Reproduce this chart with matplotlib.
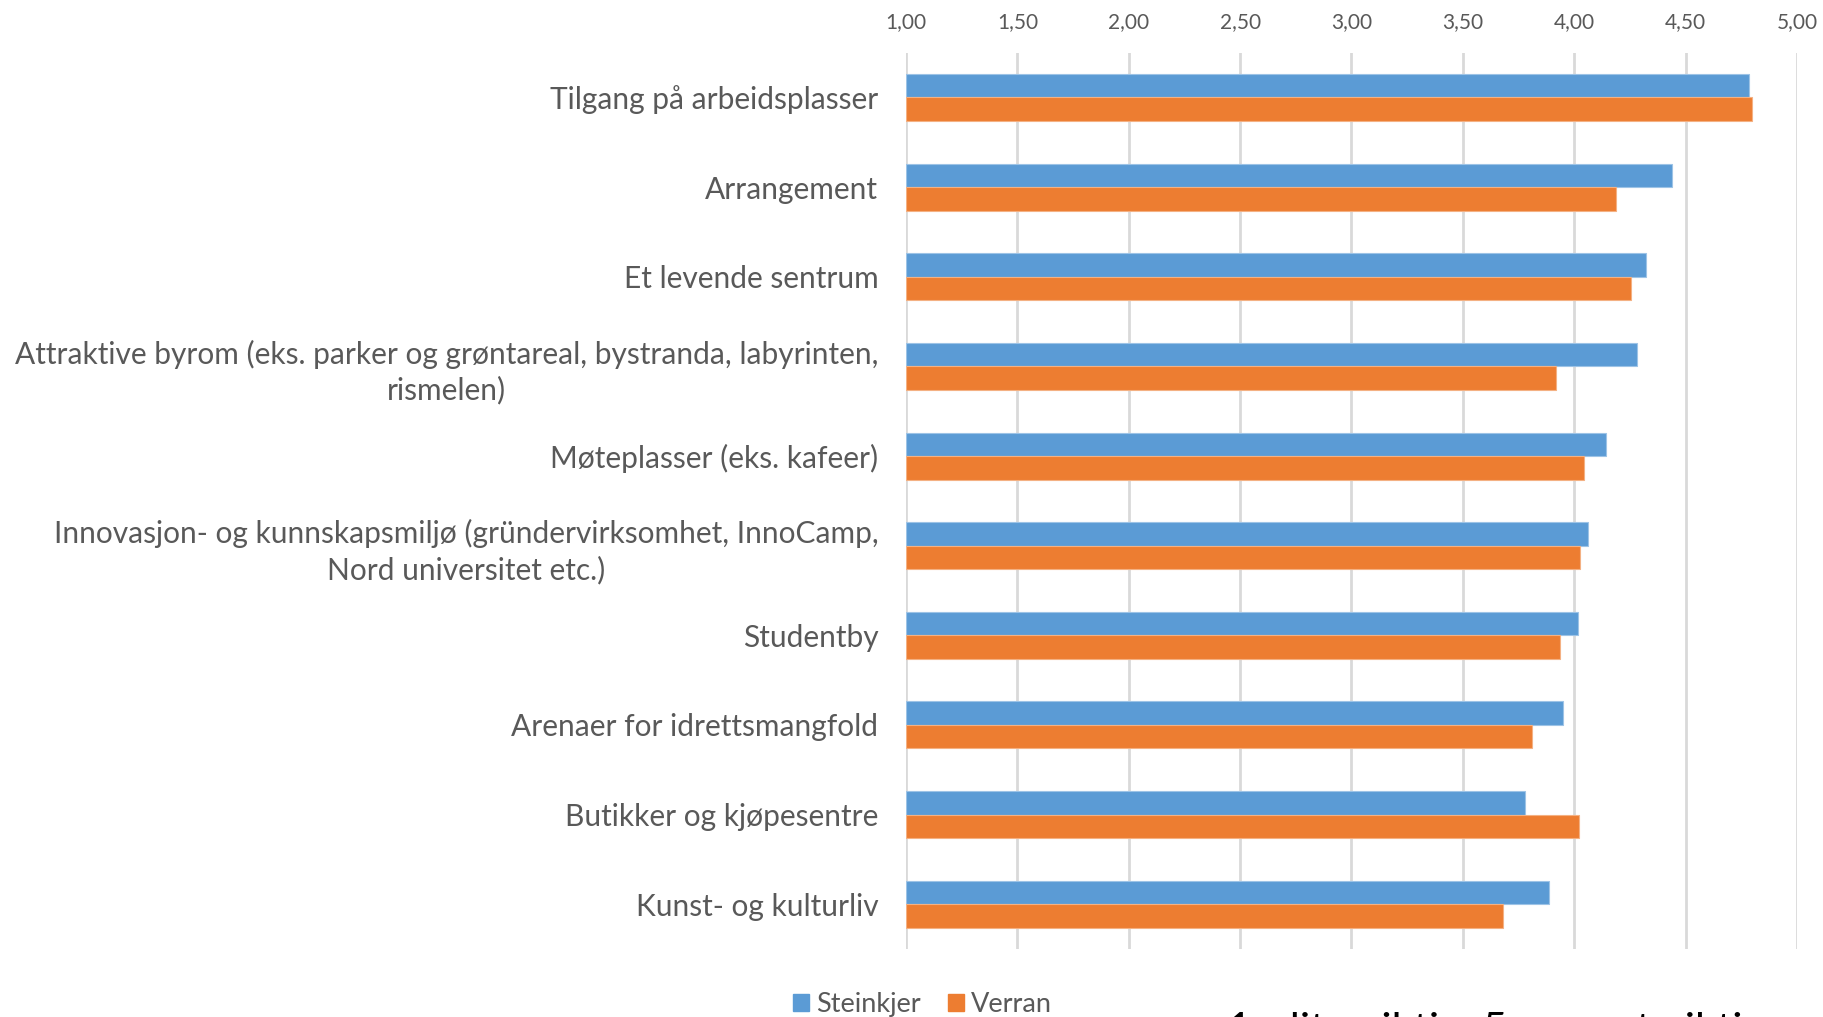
import matplotlib.pyplot as plt
import numpy as np
from matplotlib.patches import Patch

plt.rcParams['font.family'] = ['Lato', 'DejaVu Sans']

categories = [
    "Tilgang på arbeidsplasser",
    "Arrangement",
    "Et levende sentrum",
    "Attraktive byrom (eks. parker og grøntareal, bystranda, labyrinten,\nrismelen)",
    "Møteplasser (eks. kafeer)",
    "Innovasjon- og kunnskapsmiljø (gründervirksomhet, InnoCamp,\nNord universitet etc.)",
    "Studentby",
    "Arenaer for idrettsmangfold",
    "Butikker og kjøpesentre",
    "Kunst- og kulturliv",
]
steinkjer = [4.785, 4.437, 4.323, 4.280, 4.141, 4.060, 4.018, 3.948, 3.780, 3.888]
verran = [4.799, 4.189, 4.256, 3.917, 4.045, 4.027, 3.934, 3.809, 4.020, 3.680]
xticks = [1.0, 1.5, 2.0, 2.5, 3.0, 3.5, 4.0, 4.5, 5.0]

blue = '#5B9BD5'
orange = '#ED7D31'
grey = '#595959'

fig = plt.figure(figsize=(18.23, 10.17), dpi=100)
ax = fig.add_axes([0.497, 0.0668, 0.4887, 0.8814])

y = np.arange(len(categories))
h = 0.262
base = 1.0
ax.barh(y - h / 2, np.array(steinkjer) - base, left=base, height=h, color=blue,
        edgecolor='#9DC3E6', linewidth=0.8, zorder=3, label='Steinkjer')
ax.barh(y + h / 2, np.array(verran) - base, left=base, height=h, color=orange,
        edgecolor='#F4B183', linewidth=0.8, zorder=3, label='Verran')

ax.set_xlim(1, 5)
ax.set_ylim(len(categories) - 0.5, -0.5)
ax.set_xticks(xticks)
ax.set_xticklabels([f"{v:.2f}".replace('.', ',') for v in xticks])
ax.xaxis.tick_top()
ax.tick_params(axis='x', length=0, pad=14.5, labelsize=15, labelcolor=grey)
ax.set_yticks(y)
ax.set_yticklabels(categories, multialignment='center', linespacing=1.3)
ax.tick_params(axis='y', length=0, pad=20, labelsize=21.5, labelcolor=grey)
ax.grid(axis='x', color='#D9D9D9', linewidth=2, zorder=0)
for s in ax.spines.values():
    s.set_visible(False)

handles = [Patch(color=blue, label='Steinkjer'), Patch(color=orange, label='Verran')]
fig.legend(handles=handles, loc='center', bbox_to_anchor=(0.506, 0.0125), ncol=2,
           frameon=False, fontsize=19.5, labelcolor=grey, handlelength=0.6,
           handleheight=0.6, handletextpad=0.25, columnspacing=1.0)

fig.text(0.673, 0.005, "1 - lite viktig, 5 - svært viktig", fontsize=31,
         color='black', va='top', ha='left')

fig.savefig('out.png', dpi=100)
